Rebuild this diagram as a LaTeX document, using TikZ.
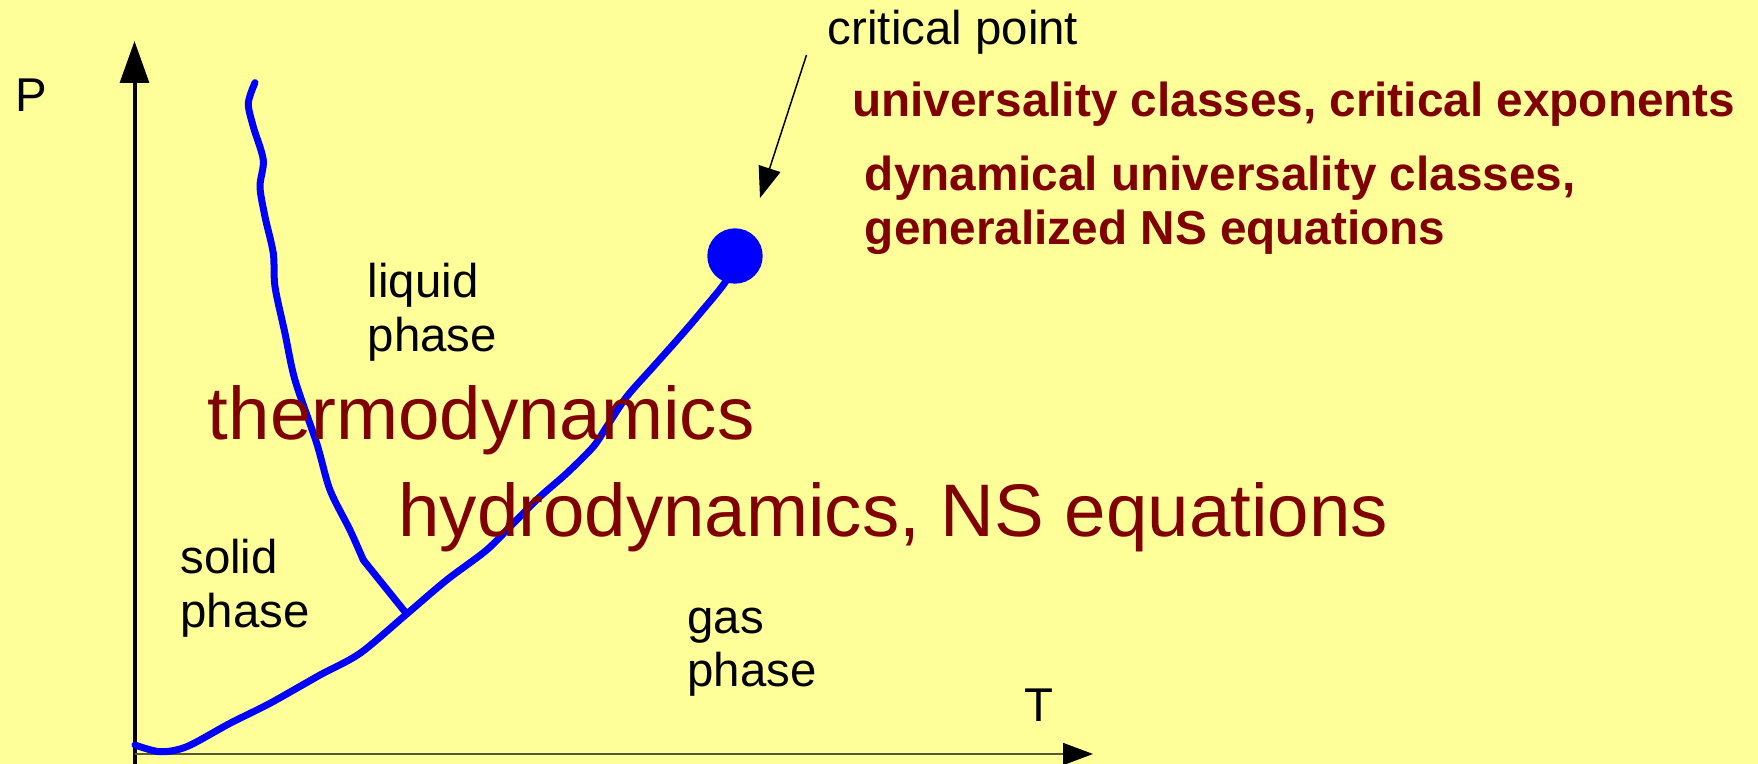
\documentclass[tikz,border=0pt]{standalone}
\usepackage{fontspec}
\setmainfont{Liberation Sans}
\usetikzlibrary{arrows.meta}
\definecolor{bgyellow}{HTML}{FFFF99}
\definecolor{darkred}{HTML}{800000}
\definecolor{phaseblue}{HTML}{0000FF}
\begin{document}
\begin{tikzpicture}[x=0.5pt,y=-0.5pt,
  lbl/.style={inner sep=0pt, anchor=base west, font=\fontsize{23.7}{27}\selectfont, text=black, align=left},
  bigred/.style={inner sep=0pt, anchor=base west, font=\fontsize{37.25}{43}\selectfont, text=darkred},
  boldred/.style={inner sep=0pt, anchor=base west, font=\bfseries\fontsize{23.85}{27}\selectfont, text=darkred, align=left},
  phaseline/.style={draw=phaseblue, line width=3.5pt, line cap=round, line join=round},
  axisline/.style={draw=black, line width=2pt}
]
\fill[bgyellow] (0,0) rectangle (1758,764);
\useasboundingbox (0,0) rectangle (1758,764);

% axes
\coordinate (ybot) at (134.5,770);
\coordinate (ytop) at (134.5,41);
\coordinate (xl) at (134.5,754);
\coordinate (xr) at (1093,754);
\draw[axisline, -{Triangle[length=21pt,width=14.4pt]}] (ybot) -- (ytop);
\draw[draw=black!65!bgyellow, line width=0.9pt, -{Triangle[length=15pt,width=11pt,color=black]}] (xl) -- (xr);

% phase boundaries
\draw[phaseline] plot[smooth, tension=0.5] coordinates {
 (135,745) (160,751.7) (186.7,746.7) (230,723.3) (270,703.3) (320,675)
 (360,653.3) (406.7,614) (446.7,580) (486.7,550) (513.3,523.3) (540,496.7)
 (566.7,473.3) (593.3,446.7) (606.7,426.7) (626.7,396.7) (653.3,366.7)
 (680,336.7) (700,313.3) (726.7,280) (735,256)};
\draw[phaseline] plot[smooth, tension=0.5] coordinates {
 (255,82.7) (248.3,103.3) (253.3,126.7) (263.3,160) (260,186.7) (265,216.7)
 (273.3,253.3) (275,286.7) (285,333.3) (295,380) (316.7,443.3) (330,490)
 (350,530) (363.3,560)};
\draw[phaseline] (363.3,560) -- (406.7,614);

% critical point
\node[circle, fill=phaseblue, minimum size=27.7pt, inner sep=0pt] (cp) at (735,256) {};
\coordinate (cpfrom) at (806.5,55);
\coordinate (cpto) at (760,198);
\draw[line width=0.75pt, -{Triangle[length=15.5pt,width=11.3pt]}] (cpfrom) -- (cpto);

% labels
\node[lbl] (P) at (15.5,112) {P};
\node[lbl] (T) at (1024,721) {T};
\node[lbl] (critlbl) at (827.5,45) {critical point};
\node[lbl] (liquid) at (367.5,351.7) {liquid\\phase};
\node[lbl] (solid) at (180,628) {solid\\phase};
\node[lbl] (gas) at (687,687) {gas\\phase};

\node[bigred] (thermo) at (207.5,440) {thermodynamics};
\node[bigred] (hydro) at (398,536.5) {hydrodynamics, NS equations};

\node[boldred] (univ) at (852,116.7) {universality classes, critical exponents};
\node[boldred] (dyn) at (864.5,245) {dynamical universality classes,\\generalized NS equations};
\end{tikzpicture}
\end{document}
